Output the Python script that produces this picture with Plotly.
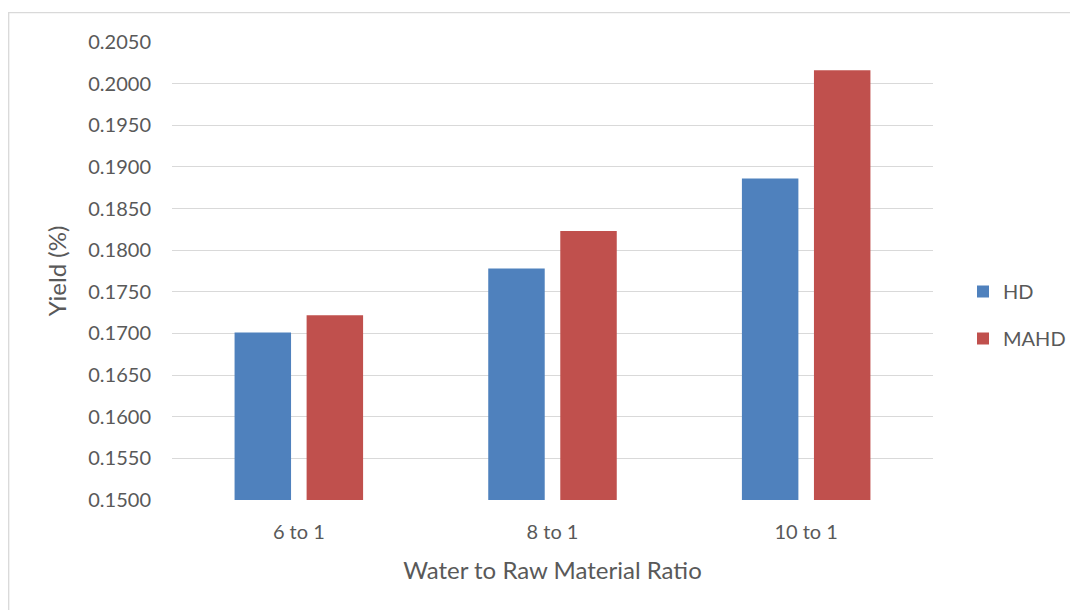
import plotly.graph_objects as go

# Yield by water-to-raw-material ratio for two distillation methods
categories = ["6 to 1", "8 to 1", "10 to 1"]
hd_yield = [0.1701, 0.1778, 0.1886]
mahd_yield = [0.1722, 0.1823, 0.2016]
y_ticks = [0.150, 0.155, 0.160, 0.165, 0.170, 0.175, 0.180, 0.185, 0.190, 0.195, 0.200, 0.205]

FONT = "Lato, Carlito, Calibri, sans-serif"
TEXT = "#595959"
GRID = "#d9d9d9"

W, H = 1070, 610
ML, MR, MT, MB = 172, 137, 42, 110
PW, PH = W - ML - MR, H - MT - MB


def px_x(x):
    return (x - ML) / PW


def px_y(y):
    return (H - MB - y) / PH


fig = go.Figure()
fig.add_trace(go.Bar(name="HD", x=categories, y=hd_yield,
                     marker=dict(color="#4f81bd", line=dict(width=0)),
                     legendgroup="a"))
fig.add_trace(go.Bar(name="MAHD", x=categories, y=mahd_yield,
                     marker=dict(color="#c0504d", line=dict(width=0)),
                     legendgroup="b"))

# Outer chart frame (only its top and left edges fall inside the view)
frame = (f"M {px_x(8.7)} {px_y(640)} L {px_x(8.7)} {px_y(12.7)} "
         f"L {px_x(1100)} {px_y(12.7)}")

fig.update_layout(
    width=W, height=H,
    margin=dict(l=ML, r=MR, t=MT, b=MB, autoexpand=False),
    paper_bgcolor="white", plot_bgcolor="white",
    font=dict(family=FONT, color=TEXT, size=20),
    barmode="group", bargap=0.432, bargroupgap=0.216,
    showlegend=True,
    legend=dict(x=px_x(963), xanchor="left", y=px_y(315), yanchor="middle",
                font=dict(size=20, color=TEXT), tracegroupgap=18,
                bgcolor="rgba(0,0,0,0)"),
    xaxis=dict(showgrid=False, showline=False, zeroline=False,
               ticks="", ticklabelstandoff=18,
               tickfont=dict(size=20, color=TEXT),
               title=dict(text="Water to Raw Material Ratio", standoff=20,
                          font=dict(size=24, color=TEXT))),
    yaxis=dict(range=[0.15, 0.205], tickvals=y_ticks, tickformat=".4f",
               showgrid=True, gridcolor=GRID, gridwidth=1.3,
               zeroline=False, showline=False, ticks="",
               ticklabelstandoff=20,
               tickfont=dict(size=20, color=TEXT),
               title=dict(text="Yield (%)", standoff=14,
                          font=dict(size=24, color=TEXT))),
    shapes=[dict(type="path", path=frame, xref="paper", yref="paper",
                 line=dict(color=GRID, width=1.3), layer="below")],
)

fig.write_html("out.html")
